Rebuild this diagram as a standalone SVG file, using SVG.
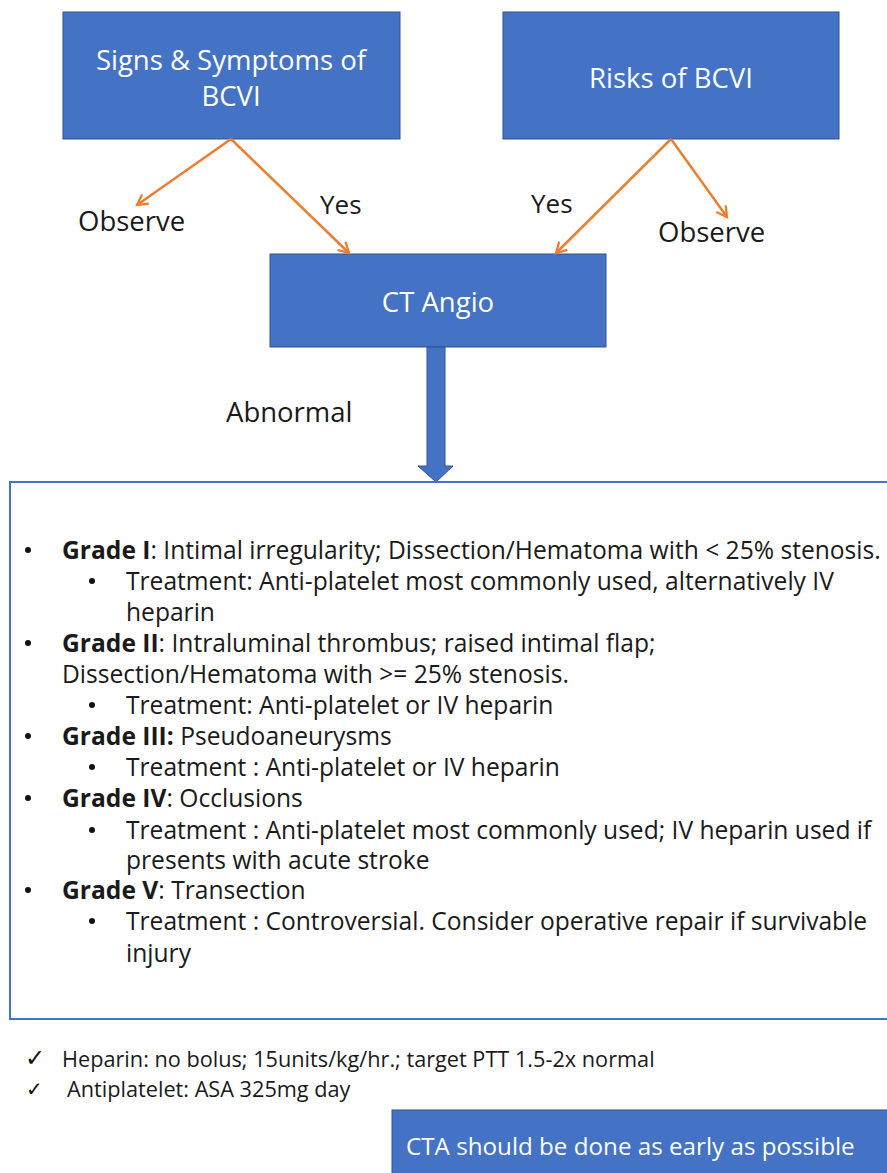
<svg xmlns="http://www.w3.org/2000/svg" width="887" height="1173" viewBox="0 0 887 1173">
  <defs>
    <style>
      .box { fill: #4472C4; stroke: #2F528F; stroke-width: 1; }
      .boxtxt { font-family: "Open Sans", "DejaVu Sans", sans-serif; font-size: 27.5px; fill: #ffffff; text-anchor: middle; }
      .lbl { font-family: "Open Sans", "DejaVu Sans", sans-serif; font-size: 27.5px; fill: #1a1a1a; }
      .lbl.yes { font-size: 26px; }
      .edge { stroke: #ED7D31; stroke-width: 2.5; fill: none; marker-end: url(#open); }
      .list { font-family: "Open Sans", "DejaVu Sans", sans-serif; font-size: 24.6px; fill: #1a1a1a; }
      .list tspan.b { font-weight: bold; }
      .note { font-family: "Open Sans", "DejaVu Sans", sans-serif; font-size: 21.7px; fill: #1a1a1a; }
      .tick { font-family: "DejaVu Sans", sans-serif; fill: #111111; }
      .dot { fill: #111111; }
    </style>
    <marker id="open" viewBox="0 0 12 12" refX="10" refY="6" markerWidth="5.5" markerHeight="5.5" orient="auto" markerUnits="strokeWidth">
      <path d="M1,1 L10,6 L1,11" fill="none" stroke="#ED7D31" stroke-width="2"/>
    </marker>
  </defs>

  <rect width="887" height="1173" fill="#ffffff"/>

  <!-- decision sources -->
  <g id="signs">
    <rect class="box" x="63" y="12" width="337" height="127"/>
    <text class="boxtxt" x="231" y="70">Signs &amp; Symptoms of</text>
    <text class="boxtxt" x="231" y="106">BCVI</text>
  </g>
  <g id="risks">
    <rect class="box" x="503" y="12" width="336" height="127"/>
    <text class="boxtxt" x="671" y="88">Risks of BCVI</text>
  </g>
  <g id="ctangio">
    <rect class="box" x="270" y="254" width="336" height="93"/>
    <text class="boxtxt" x="438" y="312">CT Angio</text>
  </g>

  <!-- branches -->
  <g id="connectors">
    <line class="edge" x1="231" y1="139" x2="137" y2="205"/>
    <line class="edge" x1="231" y1="139" x2="349" y2="253"/>
    <line class="edge" x1="671" y1="139" x2="556" y2="253"/>
    <line class="edge" x1="671" y1="139" x2="727" y2="217"/>
    <!-- block arrow down to the grading panel -->
    <path d="M427,347 L445,347 L445,466 L453,466 L436,482 L418,466 L427,466 Z" fill="#4472C4" stroke="#2F528F" stroke-width="1"/>
  </g>

  <g id="labels">
    <text class="lbl" x="78" y="231">Observe</text>
    <text class="lbl yes" x="320" y="214">Yes</text>
    <text class="lbl yes" x="531" y="213">Yes</text>
    <text class="lbl" x="658" y="242">Observe</text>
    <text class="lbl" x="226" y="422">Abnormal</text>
  </g>

  <!-- grading panel -->
  <g id="grades">
    <rect x="10" y="482" width="890" height="537" fill="#ffffff" stroke="#4472C4" stroke-width="2"/>
    <g class="dot">
      <circle cx="28" cy="550" r="3"/>
      <circle cx="92" cy="581" r="3"/>
      <circle cx="28" cy="643" r="3"/>
      <circle cx="92" cy="705" r="3"/>
      <circle cx="28" cy="736" r="3"/>
      <circle cx="92" cy="767" r="3"/>
      <circle cx="28" cy="798" r="3"/>
      <circle cx="92" cy="830" r="3"/>
      <circle cx="28" cy="890" r="3"/>
      <circle cx="92" cy="921" r="3"/>
    </g>
    <text class="list" x="62" y="559"><tspan class="b">Grade I</tspan>: Intimal irregularity; Dissection/Hematoma with &lt; 25% stenosis.</text>
    <text class="list" x="126" y="590">Treatment: Anti-platelet most commonly used, alternatively IV</text>
    <text class="list" x="126" y="621">heparin</text>
    <text class="list" x="62" y="652"><tspan class="b">Grade II</tspan>: Intraluminal thrombus; raised intimal flap;</text>
    <text class="list" x="62" y="683">Dissection/Hematoma with &gt;= 25% stenosis.</text>
    <text class="list" x="126" y="714">Treatment: Anti-platelet or IV heparin</text>
    <text class="list" x="62" y="745"><tspan class="b">Grade III:</tspan> Pseudoaneurysms</text>
    <text class="list" x="126" y="776">Treatment : Anti-platelet or IV heparin</text>
    <text class="list" x="62" y="807"><tspan class="b">Grade IV</tspan>: Occlusions</text>
    <text class="list" x="126" y="839">Treatment : Anti-platelet most commonly used; IV heparin used if</text>
    <text class="list" x="126" y="869">presents with acute stroke</text>
    <text class="list" x="62" y="899"><tspan class="b">Grade V</tspan>: Transection</text>
    <text class="list" x="126" y="930">Treatment : Controversial. Consider operative repair if survivable</text>
    <text class="list" x="126" y="962">injury</text>
  </g>

  <!-- dosing notes -->
  <g id="notes">
    <text class="tick" x="25" y="1066" style="font-size:24px">✓</text>
    <text class="note" x="62" y="1067">Heparin: no bolus; 15units/kg/hr.; target PTT 1.5-2x normal</text>
    <text class="tick" x="26" y="1096" style="font-size:20px">✓</text>
    <text class="note" x="67" y="1097">Antiplatelet: ASA 325mg day</text>
  </g>

  <g id="timing">
    <rect class="box" x="392" y="1110" width="500" height="70"/>
    <text x="406" y="1155" font-family="Open Sans, DejaVu Sans, sans-serif" font-size="24.2" fill="#ffffff">CTA should be done as early as possible</text>
  </g>
</svg>
